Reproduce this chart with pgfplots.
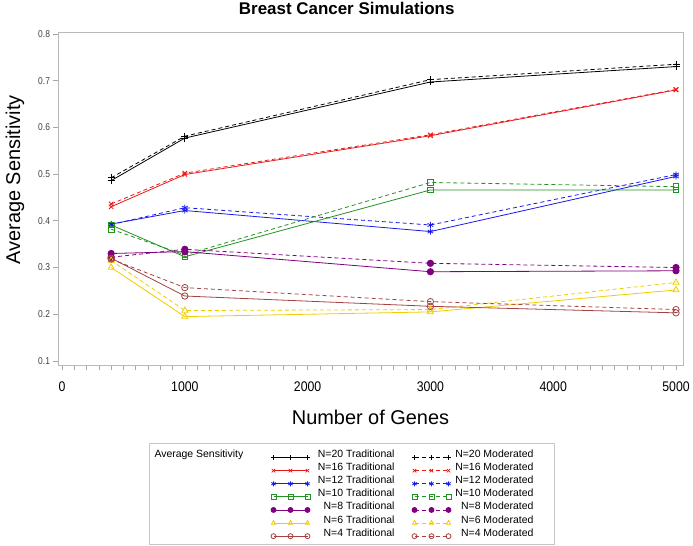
\documentclass[border=0pt]{standalone}
\usepackage{fontspec}
\setmainfont{Liberation Sans}
\usepackage{pgfplots}
\usepackage{pgfplotstable}
\pgfplotsset{compat=1.18}

% series colours
\definecolor{cN20}{RGB}{0,0,0}
\definecolor{cN16}{RGB}{235,25,25}
\definecolor{cN12}{RGB}{25,25,235}
\definecolor{cN10}{RGB}{35,145,35}
\definecolor{cN8}{RGB}{128,0,128}
\definecolor{cN6}{RGB}{240,205,0}
\definecolor{cN4}{RGB}{165,65,65}

% average sensitivity by number of genes (t = traditional, m = moderated)
\pgfplotstableread{
genes  t20   m20   t16   m16   t12   m12   t10   m10   t8    m8    t6    m6    t4    m4
400    0.486 0.492 0.430 0.436 0.393 0.392 0.391 0.382 0.330 0.322 0.300 0.315 0.320 0.318
1000   0.577 0.581 0.499 0.502 0.422 0.428 0.323 0.327 0.334 0.339 0.195 0.208 0.239 0.257
3000   0.697 0.702 0.582 0.584 0.377 0.391 0.466 0.482 0.291 0.309 0.205 0.210 0.217 0.227
5000   0.730 0.735 0.680 0.681 0.495 0.499 0.466 0.473 0.293 0.300 0.252 0.268 0.203 0.210
}\sens

% legend text cells: right-aligned names followed by fixed padding
\newcommand\tradtxt[1]{\makebox[101bp][l]{\makebox[84bp][r]{#1}}}
\newcommand\modtxt[1]{\makebox[97bp][l]{\makebox[82bp][r]{#1}}}

\pgfplotsset{
  trad/.style={solid, line width=0.8bp, mark options={solid}},
  modr/.style={dash pattern=on 4bp off 3bp, line width=0.8bp, mark options={solid}},
  s20/.style={color=cN20, mark=+, mark size=3.5bp},
  s16/.style={color=cN16, mark=x, mark size=3.2bp},
  s12/.style={color=cN12, mark=asterisk, mark size=3.2bp},
  s10/.style={color=cN10, mark=square, mark size=2.8bp},
  s8/.style={color=cN8, mark=*, mark size=3.2bp},
  s6/.style={color=cN6, mark=triangle, mark size=3.5bp},
  s4/.style={color=cN4, mark=o, mark size=3.2bp},
  legimg/.style={legend image code/.code={%
      \draw[mark repeat=1,mark size=2.5bp] plot coordinates {(0bp,0bp) (17bp,0bp) (34bp,0bp)};}},
}

\begin{document}
\begin{tikzpicture}
\useasboundingbox (0bp,0bp) rectangle (693bp,546bp);
\begin{axis}[
  at={(58bp,181bp)}, anchor=south west,
  scale only axis, width=625bp, height=333bp,
  xmin=-33, xmax=5057, ymin=0.0914, ymax=0.804,
  xtick={0,1000,2000,3000,4000,5000},
  minor x tick num=9,
  ytick={0.1,0.2,0.3,0.4,0.5,0.6,0.7,0.8},
  tick pos=left, tick align=outside,
  major tick length=5bp, minor tick length=5bp,
  every tick/.style={gray!70, line width=0.6bp},
  axis line style={gray!55, line width=0.7bp},
  /pgf/number format/assume math mode=true,
  /pgf/number format/1000 sep={},
  yticklabel={\pgfmathprintnumber[fixed,fixed zerofill,precision=1]{\tick}},
  yticklabel style={font=\fontsize{10}{10}\selectfont, xscale=0.85, text=black!75},
  xticklabel style={font=\fontsize{14}{14}\selectfont, xscale=0.88, text=black, yshift=-8bp},
  title={Breast Cancer Simulations},
  title style={font=\fontsize{17}{17}\selectfont\bfseries, at={(0.462,1.036)}, anchor=base},
  xlabel={Number of Genes},
  xlabel style={font=\fontsize{20}{20}\selectfont, at={(0.5,-0.18)}, anchor=base},
  ylabel={Average Sensitivity},
  ylabel style={font=\fontsize{20}{20}\selectfont, at={(-0.0688,0.556)}, anchor=center, rotate=0},
  legend columns=3,
  legend style={at={(0.4696,-0.234)}, anchor=north, draw=gray!45, line width=0.7bp,
    font=\fontsize{10.5}{12}\selectfont,
    inner xsep=5bp, inner ysep=4.5bp,
    /tikz/column sep=0bp, row sep=0bp,
    nodes={inner sep=0.5bp, text height=9.3bp, text depth=2.8bp, anchor=base west}},
]
% traditional (solid) and moderated (dashed) series
\addplot[trad, s20, forget plot] table[x=genes, y=t20] {\sens};
\addplot[modr, s20, forget plot] table[x=genes, y=m20] {\sens};
\addplot[trad, s16, forget plot] table[x=genes, y=t16] {\sens};
\addplot[modr, s16, forget plot] table[x=genes, y=m16] {\sens};
\addplot[trad, s12, forget plot] table[x=genes, y=t12] {\sens};
\addplot[modr, s12, forget plot] table[x=genes, y=m12] {\sens};
\addplot[trad, s10, forget plot] table[x=genes, y=t10] {\sens};
\addplot[modr, s10, forget plot] table[x=genes, y=m10] {\sens};
\addplot[trad, s8, forget plot] table[x=genes, y=t8] {\sens};
\addplot[modr, s8, forget plot] table[x=genes, y=m8] {\sens};
\addplot[trad, s6, forget plot] table[x=genes, y=t6] {\sens};
\addplot[modr, s6, forget plot] table[x=genes, y=m6] {\sens};
\addplot[trad, s4, forget plot] table[x=genes, y=t4] {\sens};
\addplot[modr, s4, forget plot] table[x=genes, y=m4] {\sens};

% legend: group title in the first column, then traditional / moderated
\addlegendimage{empty legend}\addlegendentry{\makebox[116bp][l]{Average Sensitivity}}
\addlegendimage{trad,s20,legimg}\addlegendentry{\tradtxt{N=20 Traditional}}
\addlegendimage{modr,s20,legimg}\addlegendentry{\modtxt{N=20 Moderated}}
\addlegendimage{empty legend}\addlegendentry{}
\addlegendimage{trad,s16,legimg}\addlegendentry{\tradtxt{N=16 Traditional}}
\addlegendimage{modr,s16,legimg}\addlegendentry{\modtxt{N=16 Moderated}}
\addlegendimage{empty legend}\addlegendentry{}
\addlegendimage{trad,s12,legimg}\addlegendentry{\tradtxt{N=12 Traditional}}
\addlegendimage{modr,s12,legimg}\addlegendentry{\modtxt{N=12 Moderated}}
\addlegendimage{empty legend}\addlegendentry{}
\addlegendimage{trad,s10,legimg}\addlegendentry{\tradtxt{N=10 Traditional}}
\addlegendimage{modr,s10,legimg}\addlegendentry{\modtxt{N=10 Moderated}}
\addlegendimage{empty legend}\addlegendentry{}
\addlegendimage{trad,s8,legimg}\addlegendentry{\tradtxt{N=8 Traditional}}
\addlegendimage{modr,s8,legimg}\addlegendentry{\modtxt{N=8 Moderated}}
\addlegendimage{empty legend}\addlegendentry{}
\addlegendimage{trad,s6,legimg}\addlegendentry{\tradtxt{N=6 Traditional}}
\addlegendimage{modr,s6,legimg}\addlegendentry{\modtxt{N=6 Moderated}}
\addlegendimage{empty legend}\addlegendentry{}
\addlegendimage{trad,s4,legimg}\addlegendentry{\tradtxt{N=4 Traditional}}
\addlegendimage{modr,s4,legimg}\addlegendentry{\modtxt{N=4 Moderated}}
\end{axis}
\end{tikzpicture}
\end{document}
